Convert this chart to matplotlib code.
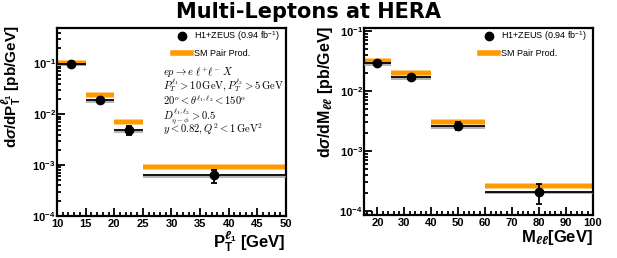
import matplotlib
matplotlib.use("Agg")
import matplotlib.pyplot as plt
import matplotlib.patheffects as pe
from matplotlib.ticker import MultipleLocator, FixedLocator, FixedFormatter, LogLocator, NullFormatter
from matplotlib.lines import Line2D

# ---- data ----
pt_lo = [10, 15, 20, 25]
pt_hi = [15, 20, 25, 50]
pt_x = [12.5, 17.5, 22.5, 37.5]
pt_data = [0.100, 0.019, 0.0049, 0.00063]
pt_err_dn = [0.006, 0.0018, 0.0010, 0.00018]
pt_err_up = [0.006, 0.0020, 0.0010, 0.00018]
pt_sm = [0.104, 0.0235, 0.0072, 0.00093]

m_lo = [15, 25, 40, 60]
m_hi = [25, 40, 60, 100]
m_x = [20, 32.5, 50, 80]
m_data = [0.029, 0.017, 0.0026, 0.00021]
m_err_dn = [0.0018, 0.0012, 0.0004, 0.00008]
m_err_up = [0.0018, 0.0012, 0.0004, 0.000075]
m_sm = [0.031, 0.0197, 0.0031, 0.000258]

ytick_vals = [1e-4, 1e-3, 1e-2, 1e-1]
ytick_labels = [r'$\mathbf{10^{-4}}$', r'$\mathbf{10^{-3}}$', r'$\mathbf{10^{-2}}$', r'$\mathbf{10^{-1}}$']
pt_xticks = [10, 15, 20, 25, 30, 35, 40, 45, 50]
m_xticks = [20, 30, 40, 50, 60, 70, 80, 90, 100]

cuts = [r'$ep\rightarrow e\ \ell^{+}\ell^{-}\ X$',
        r'$P_T^{\ell_1}>10\,\mathrm{GeV},P_T^{\ell_2}>5\,\mathrm{GeV}$',
        r'$20^o<\theta^{\ell_1,\ell_2}<150^o$',
        r'$D_{\eta-\phi}^{\ell_1,\ell_2}>0.5$',
        r'$y<0.82,Q^2<1\,\mathrm{GeV}^2$']

plt.rcParams['font.family'] = ['Liberation Sans', 'DejaVu Sans']
plt.rcParams['mathtext.fontset'] = 'custom'
plt.rcParams['mathtext.rm'] = 'Liberation Sans:bold'
plt.rcParams['mathtext.bf'] = 'Liberation Sans:bold'
plt.rcParams['mathtext.it'] = 'Liberation Sans:italic:bold'

ORANGE = '#ff9900'

fig = plt.figure(figsize=(6.17, 2.58), dpi=100)
axL = fig.add_axes([0.0924, 0.1628, 0.3711, 0.7287])
axR = fig.add_axes([0.5900, 0.1667, 0.3711, 0.7248])

def draw(ax, lo, hi, x, data, edn, eup, sm):
    ax.hlines(sm, lo, hi, color=ORANGE, lw=3.2, zorder=2,
              path_effects=[pe.Stroke(linewidth=4.2, foreground='#ffd9a0'), pe.Normal()])
    ax.hlines(data, lo, hi, color='black', lw=1.3, zorder=3,
              path_effects=[pe.SimpleLineShadow(offset=(0, -1.2), shadow_color='#999999', alpha=0.8), pe.Normal()])
    ax.errorbar(x, data, yerr=[edn, eup], fmt='o', color='black', ms=6,
                elinewidth=1.3, capsize=2.5, capthick=1.3, zorder=4)

draw(axL, pt_lo, pt_hi, pt_x, pt_data, pt_err_dn, pt_err_up, pt_sm)
draw(axR, m_lo, m_hi, m_x, m_data, m_err_dn, m_err_up, m_sm)

for ax in (axL, axR):
    ax.set_yscale('log')
    for s in ax.spines.values():
        s.set_linewidth(1.6)
    ax.yaxis.set_major_locator(FixedLocator(ytick_vals))
    ax.yaxis.set_major_formatter(FixedFormatter(ytick_labels))
    ax.yaxis.set_minor_locator(LogLocator(base=10, subs=range(2, 10), numticks=20))
    ax.yaxis.set_minor_formatter(NullFormatter())
    ax.tick_params(which='both', direction='in', top=False, right=False, width=1.3, labelsize=8)
    ax.tick_params(which='major', length=6)
    ax.tick_params(which='minor', length=3)
    ax.tick_params(axis='x', pad=2)
    ax.tick_params(axis='y', pad=1)

axL.set_xlim(10, 50)
axL.set_ylim(1e-4, 0.5)
axL.xaxis.set_major_locator(FixedLocator(pt_xticks))
axL.set_xticklabels([str(v) for v in pt_xticks], fontweight='bold', fontsize=8)
axL.xaxis.set_minor_locator(MultipleLocator(1))

axR.set_xlim(15, 100)
axR.set_ylim(8.6e-5, 0.112)
axR.xaxis.set_major_locator(FixedLocator(m_xticks))
axR.set_xticklabels([str(v) for v in m_xticks], fontweight='bold', fontsize=8)
axR.xaxis.set_minor_locator(MultipleLocator(2))

axL.set_ylabel(r'd$\sigma$/dP$_\mathrm{T}^{\ell_1}$ [pb/GeV]', fontsize=11, fontweight='bold', loc='top')
axL.yaxis.set_label_coords(-0.15, 1.015)
axL.set_xlabel(r'P$_\mathrm{T}^{\ell_1}$ [GeV]', fontsize=12, fontweight='bold', loc='right')
axL.xaxis.set_label_coords(1.0, -0.07)
axL.xaxis.label.set_va('top')

axR.set_ylabel(r'd$\sigma$/dM$_{\ell\ell}$ [pb/GeV]', fontsize=11.5, fontweight='bold', loc='top')
axR.yaxis.set_label_coords(-0.125, 1.015)
axR.set_xlabel(r'M$_{\ell\ell}$[GeV]', fontsize=12, fontweight='bold', loc='right')
axR.xaxis.set_label_coords(1.0, -0.07)
axR.xaxis.label.set_va('top')

handles = [Line2D([], [], ls='none', marker='o', color='black', ms=6),
           Line2D([], [], color=ORANGE, lw=4)]
labels = [r'H1+ZEUS (0.94 fb$^{\mathregular{-1}}$)', 'SM Pair Prod.']
for ax in (axL, axR):
    leg = ax.legend(handles, labels, loc='upper right', bbox_to_anchor=(1.0, 1.025),
                    frameon=False, fontsize=6.5, handlelength=2.0, handletextpad=0.3,
                    labelspacing=0.6, borderaxespad=0.3)

ys = [0.765, 0.695, 0.615, 0.530, 0.460]
for y, s in zip(ys, cuts):
    axL.text(0.465, y, s, transform=axL.transAxes, fontsize=7.6, math_fontfamily='cm',
             ha='left', va='center')

fig.text(0.50, 0.953, 'Multi-Leptons at HERA', family='DejaVu Sans', fontweight='bold',
         fontsize=15, ha='center', va='center')

fig.savefig('out.png', dpi=100)
